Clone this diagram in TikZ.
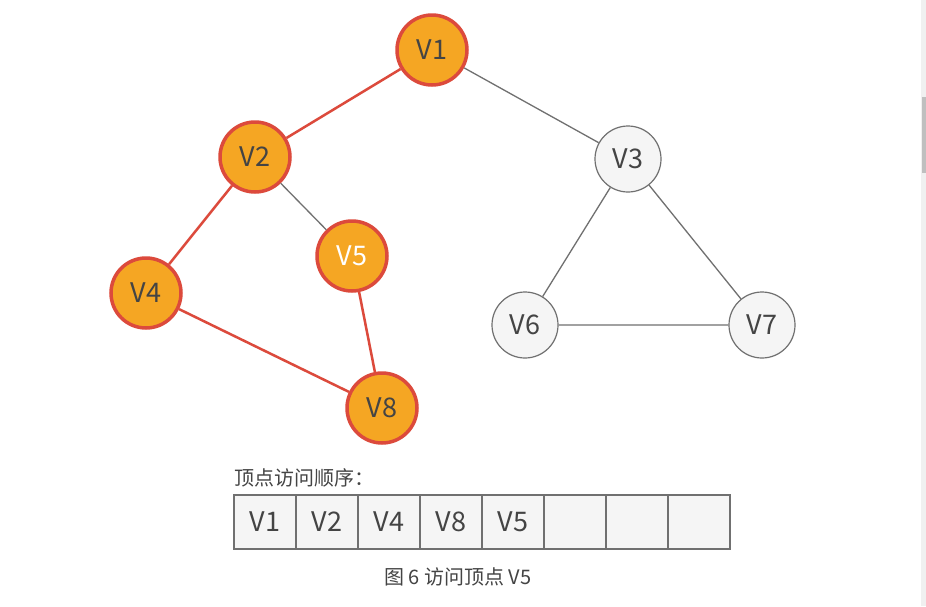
\documentclass[tikz,border=0pt]{standalone}
\usepackage{fontspec}
\setmainfont{Noto Sans CJK SC}
\usepackage{tikz}
\definecolor{visitfill}{HTML}{F5A623}
\definecolor{visitline}{HTML}{DC4A3C}
\definecolor{plainfill}{HTML}{F5F5F5}
\definecolor{plainline}{HTML}{707070}
\definecolor{txt}{HTML}{444444}

\begin{document}
\begin{tikzpicture}[x=1pt, y=-1pt,
    visited/.style={circle, draw=visitline, line width=3.5pt, fill=visitfill, minimum size=70pt, inner sep=0pt, font=\fontsize{27}{27}\selectfont, text=txt},
    vertex/.style={circle, draw=plainline, line width=1.2pt, fill=plainfill, minimum size=66pt, inner sep=0pt, font=\fontsize{27}{27}\selectfont, text=txt},
    cell/.style={draw=plainline, line width=1.2pt, fill=plainfill, minimum width=62pt, minimum height=54pt, inner sep=0pt, font=\fontsize{27}{27}\selectfont, text=txt},
    tree/.style={visitline, line width=2.5pt},
    edge/.style={plainline, line width=1.3pt}]

    % canvas and scrollbar
    \useasboundingbox (0,0) rectangle (926,606);
    \fill[white] (0,0) rectangle (926,606);
    \fill[black!6] (921,0) rectangle (926,606);
    \fill[black!25] (922,97) rectangle (926,173);

    % Define vertices with coordinates
    \node[visited] (v1) at (432,50) {V1};
    \node[visited] (v2) at (255,157) {V2};
    \node[vertex] (v3) at (628,159) {V3};
    \node[visited] (v4) at (146,293) {V4};
    \node[visited, text=white] (v5) at (352,256) {V5};
    \node[vertex] (v6) at (525,325) {V6};
    \node[vertex] (v7) at (762,325) {V7};
    \node[visited] (v8) at (382,408) {V8};
    % Draw edges
    \draw[edge] (v1) -- (v3);
    \draw[edge] (v2) -- (v5);
    \draw[edge] (v3) -- (v6) -- (v7) -- (v3);
    \draw[tree] (v1) -- (v2) -- (v4) -- (v8) -- (v5);

    % visiting order
    \node[anchor=west, inner sep=0pt, font=\fontsize{20}{20}\selectfont, text=txt] (order) at (234,478) {顶点访问顺序：};
    \foreach \i/\t in {1/V1, 2/V2, 3/V4, 4/V8, 5/V5, 6/, 7/, 8/}
        \node[cell] (c\i) at (234+62*\i-31,522) {\t};
    \node[font=\fontsize{20}{20}\selectfont, text=txt] (cap) at (458,577) {图 6 访问顶点 V5};
\end{tikzpicture}
\end{document}
